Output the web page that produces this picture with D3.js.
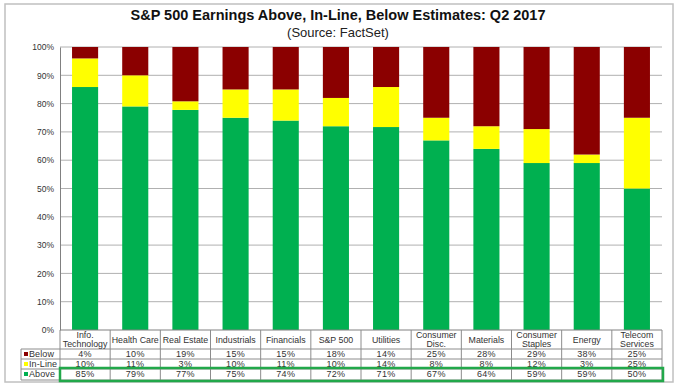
<!DOCTYPE html>
<html><head><meta charset="utf-8">
<script src="https://cdn.jsdelivr.net/npm/d3@7"></script>
<style>body{margin:0;background:#fff}svg{display:block;font-family:Arial,"Liberation Sans",sans-serif}</style>
</head><body>
<svg id="c" width="676" height="386"></svg>
<script>
const categories = ["Info. Technology","Health Care","Real Estate","Industrials","Financials","S&P 500","Utilities","Consumer Disc.","Materials","Consumer Staples","Energy","Telecom Services"];
const categoryLines = [["Info.","Technology"],["Health Care"],["Real Estate"],["Industrials"],["Financials"],["S&P 500"],["Utilities"],["Consumer","Disc."],["Materials"],["Consumer","Staples"],["Energy"],["Telecom","Services"]];
const below  = [4,10,19,15,15,18,14,25,28,29,38,25];
const inLine = [10,11,3,10,11,10,14,8,8,12,3,25];
const above  = [85,79,77,75,74,72,71,67,64,59,59,50];
const yTicks = [0,0.1,0.2,0.3,0.4,0.5,0.6,0.7,0.8,0.9,1];
const seriesNames = ["Above","In-Line","Below"];
const colors = {"Above":"#00B050","In-Line":"#FFFF00","Below":"#8B0000"};

const svg = d3.select("#c");
const L=60, R=662, T=47, B=330;
svg.append("rect").attr("x",5).attr("y",4).attr("width",668).attr("height",378)
  .attr("fill","none").attr("stroke","#c0c0c0").attr("stroke-width",1.5);

svg.append("text").attr("x",338).attr("y",20).attr("text-anchor","middle")
  .attr("font-size",14.5).attr("font-weight","bold").attr("fill","#111")
  .text("S&P 500 Earnings Above, In-Line, Below Estimates: Q2 2017");
svg.append("text").attr("x",338).attr("y",37).attr("text-anchor","middle")
  .attr("font-size",13).attr("fill","#222").text("(Source: FactSet)");

const x = d3.scaleBand().domain(categories).range([L,R]).paddingInner(0.48).paddingOuter(0.24);
const y = d3.scaleLinear().domain([0,1]).range([B,T]);

svg.append("g").selectAll("line").data(yTicks.filter(t=>t>0)).join("line")
  .attr("x1",L).attr("x2",R).attr("y1",d=>y(d)).attr("y2",d=>y(d))
  .attr("stroke","#b0b0b0").attr("stroke-width",1);

const yAxis = d3.axisLeft(y).tickValues(yTicks).tickFormat(d3.format(".0%")).tickSize(0).tickPadding(6);
const ga = svg.append("g").attr("transform",`translate(${L},0)`).call(yAxis);
ga.select(".domain").attr("stroke","#808080");
ga.selectAll("text").attr("font-size",8.5).attr("fill","#333").attr("font-family","Arial,'Liberation Sans',sans-serif");

const rows = categories.map((c,i)=>({cat:c,"Above":above[i],"In-Line":inLine[i],"Below":below[i]}));
const stack = d3.stack().keys(seriesNames).offset(d3.stackOffsetExpand);
const series = stack(rows);
svg.append("g").selectAll("g").data(series).join("g").attr("fill",d=>colors[d.key])
  .selectAll("rect").data(d=>d).join("rect")
  .attr("x",d=>x(d.data.cat)).attr("width",x.bandwidth())
  .attr("y",d=>y(d[1])).attr("height",d=>y(d[0])-y(d[1]));

svg.append("line").attr("x1",L).attr("x2",R).attr("y1",B).attr("y2",B).attr("stroke","#808080");

const rowY = [349, 359, 369, 380];
const tbl = svg.append("g");
const lc = "#8c8c8c";
const colStart = d3.range(categories.length+1).map(i=>L + i*(R-L)/categories.length);
tbl.selectAll("line.v").data(colStart).join("line").attr("class","v")
  .attr("x1",d=>d).attr("x2",d=>d).attr("y1",B).attr("y2",rowY[3]).attr("stroke",lc);
tbl.append("line").attr("x1",21).attr("x2",21).attr("y1",rowY[0]).attr("y2",rowY[3]).attr("stroke",lc);
tbl.selectAll("line.h").data(rowY).join("line").attr("class","h")
  .attr("x1",21).attr("x2",R).attr("y1",d=>d).attr("y2",d=>d).attr("stroke",lc);

const cx = c => x(c)+x.bandwidth()/2;
categories.forEach((c,i)=>{
  const lines = categoryLines[i];
  const t = tbl.append("text").attr("text-anchor","middle").attr("font-size",8.8).attr("fill","#333");
  if(lines.length===2){
    t.append("tspan").attr("x",cx(c)).attr("y",338).text(lines[0]);
    t.append("tspan").attr("x",cx(c)).attr("y",347).text(lines[1]);
  } else {
    t.append("tspan").attr("x",cx(c)).attr("y",343).text(lines[0]);
  }
});
const tableRows = [["Below",below],["In-Line",inLine],["Above",above]];
tableRows.forEach(([name,vals],r)=>{
  const yb = rowY[r]+8;
  vals.forEach((v,i)=>{
    tbl.append("text").attr("x",cx(categories[i])).attr("y",yb).attr("text-anchor","middle")
      .attr("font-size",9).attr("letter-spacing",0.3).attr("fill","#333").text(v+"%");
  });
  tbl.append("rect").attr("x",24).attr("y",rowY[r]+3).attr("width",4).attr("height",4).attr("fill",colors[name]);
  tbl.append("text").attr("x",29).attr("y",yb).attr("font-size",9).attr("letter-spacing",0.1).attr("fill","#333").text(name);
});
svg.append("rect").attr("x",L).attr("y",368).attr("width",R-L+1).attr("height",13)
  .attr("fill","none").attr("stroke","#22A84A").attr("stroke-width",2.5);
</script>
</body></html>
